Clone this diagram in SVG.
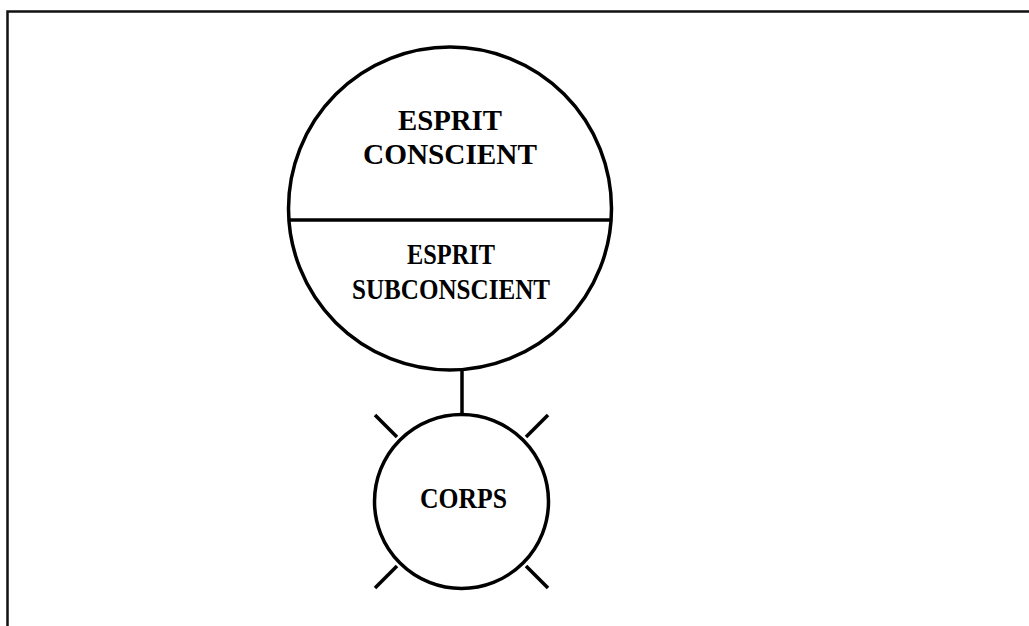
<svg xmlns="http://www.w3.org/2000/svg" width="1029" height="626" viewBox="0 0 1029 626">
<style>
.shape{fill:none;stroke:#000;stroke-width:3.5}
.lbl{font-family:"Liberation Serif","Times New Roman",serif;font-weight:bold;font-size:30px;fill:#000}
</style>
<rect x="0" y="0" width="1029" height="626" fill="#fff"/>
<path d="M7.5,630 V11.5 H1035" fill="none" stroke="#111" stroke-width="2.5"/>
<g id="esprit">
<circle class="shape" cx="450" cy="208.5" r="161.5"/>
<line class="shape" x1="289" y1="220" x2="611" y2="220" stroke-width="4"/>
<text class="lbl" x="450" y="130" text-anchor="middle" textLength="104" lengthAdjust="spacingAndGlyphs">ESPRIT</text>
<text class="lbl" x="450" y="164" text-anchor="middle" textLength="174" lengthAdjust="spacingAndGlyphs">CONSCIENT</text>
<text class="lbl" x="451" y="264" text-anchor="middle" textLength="88" lengthAdjust="spacingAndGlyphs">ESPRIT</text>
<text class="lbl" x="451" y="299" text-anchor="middle" textLength="198" lengthAdjust="spacingAndGlyphs">SUBCONSCIENT</text>
</g>
<g id="connectors">
<line class="shape" x1="462" y1="370" x2="462" y2="414"/>
</g>
<g id="corps">
<circle class="shape" cx="461.5" cy="501.5" r="87"/>
<line class="shape" x1="375" y1="415" x2="397" y2="437"/>
<line class="shape" x1="548" y1="415" x2="526" y2="437"/>
<line class="shape" x1="375" y1="588" x2="397" y2="566"/>
<line class="shape" x1="548" y1="588" x2="526" y2="566"/>
<text class="lbl" x="463.5" y="508" text-anchor="middle" textLength="87" lengthAdjust="spacingAndGlyphs">CORPS</text>
</g>
</svg>
